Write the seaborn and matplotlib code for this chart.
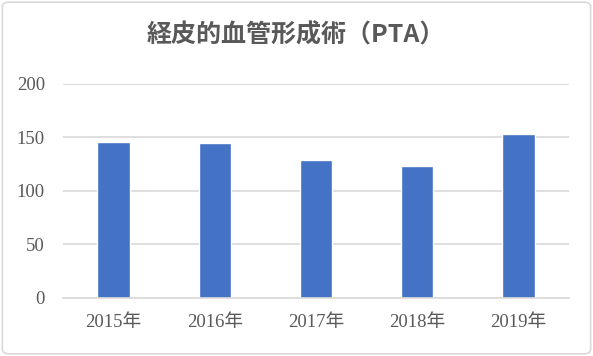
#!/usr/bin/env python3
import matplotlib.pyplot as plt
import pandas as pd
import seaborn as sns
from matplotlib.patches import FancyBboxPatch

sns.set_theme(style="white")
plt.rcParams["font.family"] = ["Liberation Serif", "Noto Sans CJK JP"]

years = ["2015年", "2016年", "2017年", "2018年", "2019年"]
counts = [146, 145, 129, 123, 153]
title = "経皮的血管形成術（PTA）"

data = pd.DataFrame({"Year": years, "Count": counts})

fig = plt.figure(figsize=(5.93, 3.56), dpi=100)
ax = fig.add_axes([63 / 593, 1 - 297.7 / 356, 506 / 593, 213.7 / 356])

sns.barplot(x="Year", y="Count", data=data, color="#4472C4",
            saturation=1, width=0.32, ax=ax)

ax.set_ylim(0, 200)
ax.set_yticks([0, 50, 100, 150, 200])
ax.yaxis.grid(True, color="#D9D9D9", linewidth=1.2)
ax.set_axisbelow(True)
for side in ["top", "right", "left"]:
    ax.spines[side].set_visible(False)
ax.spines["bottom"].set_color("#D9D9D9")
ax.spines["bottom"].set_linewidth(1.2)
ax.set_xlabel("")
ax.set_ylabel("")
ax.tick_params(axis="both", length=0, labelsize=13.5, labelcolor="#595959")
ax.tick_params(axis="y", pad=13)
ax.tick_params(axis="x", pad=12)

fig.text(0.499, 1 - 35 / 356, title, ha="center", va="center",
         fontsize=18, fontweight="bold", color="#595959",
         family=["Noto Sans CJK JP", "DejaVu Sans"])

# Chart frame
frame = FancyBboxPatch((0.004, 0.006), 0.992, 0.988,
                       boxstyle="round,pad=0,rounding_size=0.012",
                       transform=fig.transFigure, facecolor="none",
                       edgecolor="#D9D9D9", linewidth=1.2)
fig.patches.append(frame)

fig.savefig("out.png", dpi=100)
